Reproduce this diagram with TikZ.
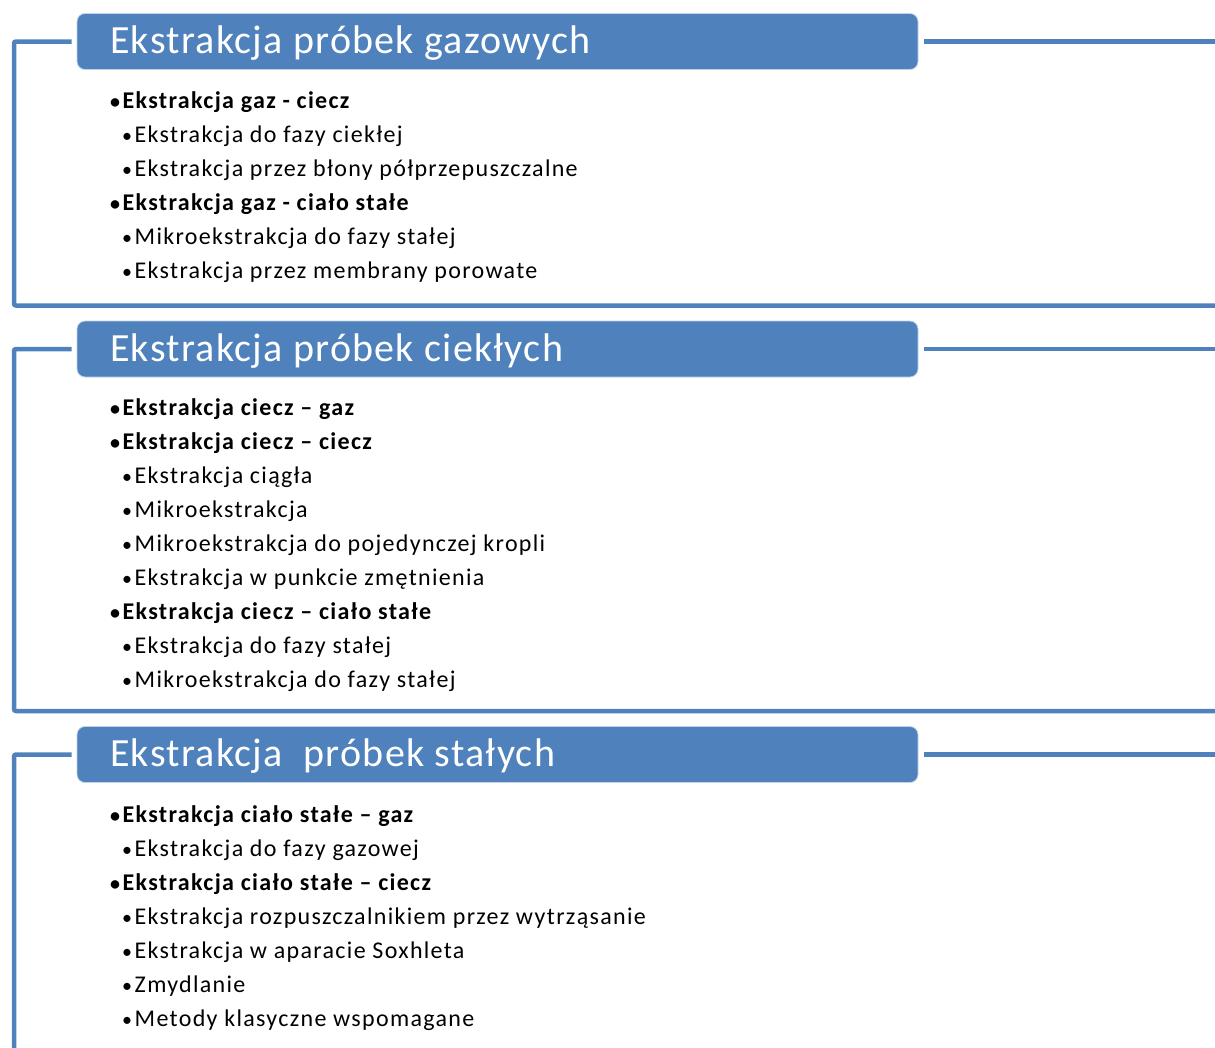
\documentclass[tikz,border=0pt]{standalone}
\usepackage{fontspec}
\setmainfont{Carlito}
\definecolor{accent}{HTML}{4F81BD}
\newcommand\itembullet{\makebox[12.5pt][l]{\fontsize{20}{24}\selectfont •}}
\tikzset{
  frameline/.style={draw=accent, line width=4.5pt, rounded corners=2pt},
  headbox/.style={fill=accent, draw=white!65!accent, line width=0.8pt, rounded corners=8pt,
    minimum width=841pt, minimum height=56pt, inner sep=0pt},
  headtext/.style={anchor=base west, inner sep=0pt, text=white,
    font=\fontsize{40}{48}\selectfont\addfontfeatures{LetterSpace=3.2}},
  lvlone/.style={anchor=base west, inner sep=0pt,
    font=\fontsize{24}{28}\selectfont\bfseries\addfontfeatures{LetterSpace=5.5}},
  lvltwo/.style={anchor=base west, inner sep=0pt,
    font=\fontsize{24}{28}\selectfont\addfontfeatures{LetterSpace=5.5}},
}
\begin{document}
\begin{tikzpicture}[x=1pt, y=-1pt]
\useasboundingbox (0,0) rectangle (1215,1047);

% ---------- gas samples ----------
\node[headbox] (h1) at (497.5,41.5) {};
\node[headtext] (t1) at (110,53.5) {Ekstrakcja próbek gazowych};
\coordinate (f1tl) at (14,41.5);
\coordinate (f1bl) at (14,305.5);
\coordinate (f1br) at (1215,305.5);
\coordinate (f1r) at (1215,41.5);
\draw[frameline] ([xshift=-5pt]h1.west) -- (f1tl) -- (f1bl) -- (f1br);
\draw[frameline] ([xshift=6pt]h1.east) -- (f1r);

\node[lvlone] (a1) at (110,108) {\itembullet Ekstrakcja gaz - ciecz};
\node[lvltwo] (a2) at (122,142) {\itembullet Ekstrakcja do fazy ciekłej};
\node[lvltwo] (a3) at (122,176) {\itembullet Ekstrakcja przez błony półprzepuszczalne};
\node[lvlone] (a4) at (110,210) {\itembullet Ekstrakcja gaz - ciało stałe};
\node[lvltwo] (a5) at (122,244) {\itembullet Mikroekstrakcja do fazy stałej};
\node[lvltwo] (a6) at (122,278) {\itembullet Ekstrakcja przez membrany porowate};

% ---------- liquid samples ----------
\node[headbox] (h2) at (497.5,349) {};
\node[headtext] (t2) at (110,361) {Ekstrakcja próbek ciekłych};
\coordinate (f2tl) at (14,349);
\coordinate (f2bl) at (14,711);
\coordinate (f2br) at (1215,711);
\coordinate (f2r) at (1215,349);
\draw[frameline] ([xshift=-5pt]h2.west) -- (f2tl) -- (f2bl) -- (f2br);
\draw[frameline] ([xshift=6pt]h2.east) -- (f2r);

\node[lvlone] (b1) at (110,415) {\itembullet Ekstrakcja ciecz – gaz};
\node[lvlone] (b2) at (110,449) {\itembullet Ekstrakcja ciecz – ciecz};
\node[lvltwo] (b3) at (122,483) {\itembullet Ekstrakcja ciągła};
\node[lvltwo] (b4) at (122,517) {\itembullet Mikroekstrakcja};
\node[lvltwo] (b5) at (122,551) {\itembullet Mikroekstrakcja do pojedynczej kropli};
\node[lvltwo] (b6) at (122,585) {\itembullet Ekstrakcja w punkcie zmętnienia};
\node[lvlone] (b7) at (110,619) {\itembullet Ekstrakcja ciecz – ciało stałe};
\node[lvltwo] (b8) at (122,653) {\itembullet Ekstrakcja do fazy stałej};
\node[lvltwo] (b9) at (122,687) {\itembullet Mikroekstrakcja do fazy stałej};

% ---------- solid samples ----------
\node[headbox] (h3) at (497.5,754.5) {};
\node[headtext] (t3) at (110,766.5) {Ekstrakcja\ \ próbek stałych};
\coordinate (f3tl) at (14,754.5);
\coordinate (f3bl) at (14,1052);
\coordinate (f3r) at (1215,754.5);
\draw[frameline] ([xshift=-5pt]h3.west) -- (f3tl) -- (f3bl);
\draw[frameline] ([xshift=6pt]h3.east) -- (f3r);

\node[lvlone] (c1) at (110,822) {\itembullet Ekstrakcja ciało stałe – gaz};
\node[lvltwo] (c2) at (122,856) {\itembullet Ekstrakcja do fazy gazowej};
\node[lvlone] (c3) at (110,890) {\itembullet Ekstrakcja ciało stałe – ciecz};
\node[lvltwo] (c4) at (122,924) {\itembullet Ekstrakcja rozpuszczalnikiem przez wytrząsanie};
\node[lvltwo] (c5) at (122,958) {\itembullet Ekstrakcja w aparacie Soxhleta};
\node[lvltwo] (c6) at (122,992) {\itembullet Zmydlanie};
\node[lvltwo] (c7) at (122,1026) {\itembullet Metody klasyczne wspomagane};
\end{tikzpicture}
\end{document}
